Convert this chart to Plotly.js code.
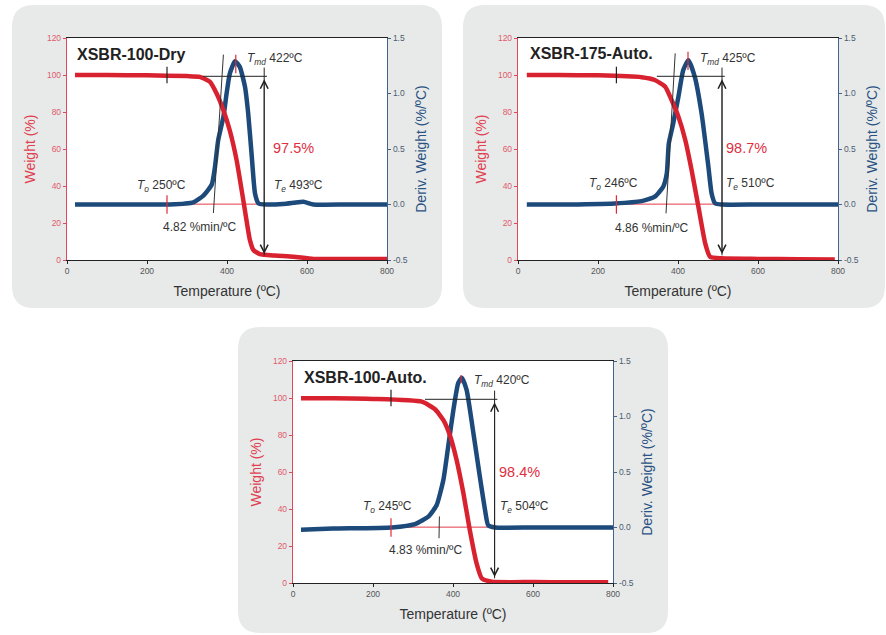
<!DOCTYPE html>
<html><head><meta charset="utf-8">
<script src="https://cdn.plot.ly/plotly-3.0.1.min.js"></script>
<style>html,body{margin:0;padding:0;background:#fff}#chart{width:886px;height:635px}</style>
</head><body><div id="chart"></div>
<script>
// ---------- DATA ----------
const sampleNames = ["XSBR-100-Dry", "XSBR-175-Auto.", "XSBR-100-Auto."];

// XSBR-100-Dry
const tempDryW   = [20, 100, 200, 300, 332, 357, 374, 391, 407, 424, 441, 457, 466, 482, 520, 566, 616, 700, 800];
const weightDry  = [100, 100, 99.8, 99.4, 99, 96.4, 90, 81, 70, 54, 32, 11, 5.4, 3.2, 2.4, 1.8, 0.6, 0.5, 0.5];
const tempDryD   = [20, 100, 200, 257, 316, 341, 362, 370, 378, 391, 399, 407, 420, 432, 445, 453, 462, 470, 479, 500, 540, 566, 591, 616, 700, 800];
const derivDry   = [0, 0, 0, 0, 0.02, 0.08, 0.18, 0.34, 0.58, 0.79, 1.0, 1.18, 1.29, 1.24, 1.06, 0.82, 0.43, 0.10, 0.01, 0, 0.005, 0.015, 0.025, 0, 0, 0];

// XSBR-175-Auto.
const temp175W   = [22, 100, 200, 309, 342, 368, 384, 401, 418, 434, 451, 468, 480, 509, 600, 700, 792];
const weight175  = [100, 100, 99.8, 98.8, 97.3, 93.7, 86.5, 77.5, 65, 48.6, 28.8, 9, 1.8, 0.9, 0.6, 0.4, 0.3];
const temp175D   = [22, 100, 242, 309, 342, 363, 372, 377, 388, 401, 413, 426, 442, 459, 476, 484, 493, 509, 600, 800];
const deriv175   = [0, 0, 0.01, 0.03, 0.07, 0.16, 0.28, 0.55, 0.73, 0.97, 1.21, 1.30, 1.15, 0.82, 0.34, 0.10, 0.01, 0, 0, 0];

// XSBR-100-Auto.
const temp100aW  = [20, 100, 200, 322, 355, 376, 392, 409, 426, 442, 459, 472, 497, 600, 700, 788];
const weight100a = [99.8, 99.8, 99.5, 98, 93.9, 88, 80, 66.5, 48.5, 28.6, 10.6, 2.5, 0.7, 0.5, 0.4, 0.4];
const temp100aD  = [20, 100, 247, 305, 339, 359, 376, 388, 401, 413, 422, 434, 451, 467, 480, 488, 505, 600, 800];
const deriv100a  = [-0.02, -0.01, 0, 0.03, 0.10, 0.20, 0.43, 0.73, 1.06, 1.30, 1.35, 1.24, 0.85, 0.46, 0.16, 0.02, 0, 0, 0];

// characteristic values
const tMaxDecomp = [422, 425, 420];
const tOnset     = [250, 246, 245];
const tEnd       = [493, 510, 504];
const slopeVals  = [4.82, 4.86, 4.83];
const massLoss   = [97.5, 98.7, 98.4];

const xTicks = [0, 200, 400, 600, 800];

// ---------- LAYOUT CONFIG ----------
const W = 886, H = 635;
const RED = "#d9222f", BLUE = "#1c4a7a";
const RED_AX = "#e2485a", BLUE_AX = "#41638c";
const FONT = "Liberation Sans, Arial, Helvetica, sans-serif";
const TXT = "#333333";

const panels = [
  { tw: tempDryW, w: weightDry, td: tempDryD, d: derivDry,
    box: [12, 5, 442, 308], plot: [67, 38, 387, 260],
    titleX: 20, titleY: 111, tmdX: 445, tmdY: 108.5, pctX: 509, pctY: 60.4,
    toX: 235, toY: 40.2, teX: 512, teY: 40.2, slX: 331, slY: 17.7,
    hStart: 340, tan: [366, 25.4, 391, 111], tmdTick: [101, 111] },
  { tw: temp175W, w: weight175, td: temp175D, d: deriv175,
    box: [463, 5, 885, 308], plot: [518, 38, 838, 260],
    titleX: 24, titleY: 111.7, tmdX: 449, tmdY: 108.5, pctX: 514, pctY: 60.4,
    toX: 238, toY: 41, teX: 514, teY: 41, slX: 334, slY: 17.5,
    hStart: 347, tan: [370, 25.2, 393, 111.7], tmdTick: [102.7, 112.6] },
  { tw: temp100aW, w: weight100a, td: temp100aD, d: deriv100a,
    box: [238, 327, 668, 633], plot: [293, 361, 613, 583],
    titleX: 22, titleY: 111.2, tmdX: 448, tmdY: 109.2, pctX: 509, pctY: 60.2,
    toX: 236, toY: 41.2, teX: 513, teY: 41, slX: 332, slY: 17.8,
    hStart: 330, tan: [365, 24.2, 366, 36], tmdTick: [108, 112.4] }
];

const px = x => x / W;
const py = y => 1 - y / H;

function roundRect(b, r) {
  const [x0, y0, x1, y1] = b;
  const p = (x, y) => px(x).toFixed(5) + "," + py(y).toFixed(5);
  return "M" + p(x0 + r, y0) + " L" + p(x1 - r, y0) + " Q" + p(x1, y0) + " " + p(x1, y0 + r) +
         " L" + p(x1, y1 - r) + " Q" + p(x1, y1) + " " + p(x1 - r, y1) +
         " L" + p(x0 + r, y1) + " Q" + p(x0, y1) + " " + p(x0, y1 - r) +
         " L" + p(x0, y0 + r) + " Q" + p(x0, y0) + " " + p(x0 + r, y0) + " Z";
}

const data = [];
const layout = {
  width: W, height: H,
  margin: { l: 0, r: 0, t: 0, b: 0 },
  paper_bgcolor: "#ffffff", plot_bgcolor: "#ffffff",
  showlegend: false,
  font: { family: FONT, color: TXT },
  shapes: [], annotations: []
};

panels.forEach((P, i) => {
  const xa = i === 0 ? "x" : "x" + (i + 1);
  const yd = i === 0 ? "y" : "y" + (2 * i + 1);      // deriv axis (main)
  const yw = "y" + (2 * i + 2);                       // weight axis (overlay)
  const xKey = i === 0 ? "xaxis" : "xaxis" + (i + 1);
  const ydKey = i === 0 ? "yaxis" : "yaxis" + (2 * i + 1);
  const ywKey = "yaxis" + (2 * i + 2);
  const [l, t, r, b] = P.plot;

  layout[xKey] = {
    domain: [px(l), px(r)], anchor: yd, range: [0, 800],
    tickvals: xTicks, ticktext: xTicks.map(String),
    showline: true, linecolor: "#222", linewidth: 1, mirror: true,
    ticks: "outside", ticklen: 3, tickcolor: "#222",
    showgrid: false, zeroline: false,
    tickfont: { size: 8.5, color: "#555", family: FONT },
    title: { text: "Temperature (ºC)", font: { size: 14, color: "#333", family: FONT }, standoff: 10 }
  };
  layout[ydKey] = {
    domain: [py(b), py(t)], anchor: xa, side: "right", range: [-0.5, 1.5],
    tickvals: [-0.5, 0, 0.5, 1, 1.5], ticktext: ["-0.5", "0.0", "0.5", "1.0", "1.5"],
    showline: true, linecolor: BLUE_AX, linewidth: 1.2,
    ticks: "outside", ticklen: 3, tickcolor: BLUE_AX,
    showgrid: false, zeroline: false,
    tickfont: { size: 8.5, color: "#4a5a70", family: FONT },
    title: { text: "Deriv. Weight (%/ºC)", font: { size: 14, color: "#2a5282", family: FONT }, standoff: 9 }
  };
  layout[ywKey] = {
    domain: [py(b), py(t)], anchor: xa, overlaying: yd, side: "left", range: [0, 120],
    tickvals: [0, 20, 40, 60, 80, 100, 120],
    showline: true, linecolor: RED_AX, linewidth: 1.2,
    ticks: "outside", ticklen: 3, tickcolor: RED_AX,
    showgrid: false, zeroline: false,
    tickfont: { size: 8.5, color: "#e05a6a", family: FONT },
    title: { text: "Weight (%)", font: { size: 14, color: "#e0404f", family: FONT }, standoff: 8 }
  };

  // background box + white plot area
  layout.shapes.push({ type: "path", xref: "paper", yref: "paper", path: roundRect(P.box, 22),
    fillcolor: "#e8eaea", line: { width: 0 }, layer: "below" });
  layout.shapes.push({ type: "rect", xref: "paper", yref: "paper", x0: px(l), x1: px(r), y0: py(b), y1: py(t),
    fillcolor: "#ffffff", line: { width: 0 }, layer: "below" });

  // traces
  data.push({ x: P.td, y: P.d, xaxis: xa, yaxis: yd, type: "scatter", mode: "lines",
    line: { color: BLUE, width: 4.5, shape: "spline", smoothing: 0.5 }, hoverinfo: "skip" });
  data.push({ x: P.tw, y: P.w, xaxis: xa, yaxis: yw, type: "scatter", mode: "lines",
    line: { color: RED, width: 4.5, shape: "spline", smoothing: 0.5 }, hoverinfo: "skip" });

  const te = tEnd[i], to = tOnset[i], tmd = tMaxDecomp[i];
  const ln = (x0, y0, x1, y1, color, width, layer) => layout.shapes.push({
    type: "line", xref: xa, yref: yw, x0, y0, x1, y1, line: { color, width }, layer: layer || "above" });

  ln(to, 30.2, te, 30.2, "#e23a48", 1, "below");            // baseline extension
  ln(P.hStart, 99.3, te + 7, 99.3, "#222", 1);               // 100% reference
  ln(te, 104, te, 2.5, "#222", 1);                           // mass loss span
  ln(to, 95.5, to, 104.5, "#222", 1.2);                      // onset on weight curve
  ln(to, 25, to, 35, "#e02a3a", 1.2);                        // onset on deriv baseline
  ln(tmd, P.tmdTick[0], tmd, P.tmdTick[1], "#e02a3a", 1.2);  // peak marker
  ln(P.tan[0], P.tan[1], P.tan[2], P.tan[3], "#333", 1);     // tangent

  const ann = (x, y, text, opts) => layout.annotations.push(Object.assign({
    xref: xa, yref: yw, x, y, text, showarrow: false, xanchor: "left", yanchor: "middle",
    font: { size: 12, color: TXT, family: FONT } }, opts || {}));

  // double arrow heads
  layout.annotations.push({ xref: xa, yref: yw, axref: xa, ayref: yw,
    x: te, y: 3.2, ax: te, ay: 98.5, text: "", showarrow: true,
    arrowhead: 5, startarrowhead: 5, arrowside: "end+start",
    arrowsize: 1.7, startarrowsize: 1.7, arrowwidth: 0.9, arrowcolor: "#222" });

  ann(P.titleX, P.titleY, "<b>" + sampleNames[i] + "</b>", { font: { size: 16, color: "#222", family: FONT } });
  ann(P.tmdX, P.tmdY, "<i>T</i><sub><i>md</i></sub> " + tmd + "ºC");
  ann(P.pctX, P.pctY, massLoss[i].toFixed(1) + "%", { font: { size: 14.5, color: "#e0303f", family: FONT } });
  ann(P.toX, P.toY, "<i>T</i><sub><i>o</i></sub> " + to + "ºC", { xanchor: "center" });
  ann(P.teX, P.teY, "<i>T</i><sub><i>e</i></sub> " + te + "ºC");
  ann(P.slX, P.slY, slopeVals[i].toFixed(2) + " %min/ºC", { xanchor: "center" });
});

Plotly.newPlot("chart", data, layout, { staticPlot: true, displayModeBar: false });
</script>
</body></html>
